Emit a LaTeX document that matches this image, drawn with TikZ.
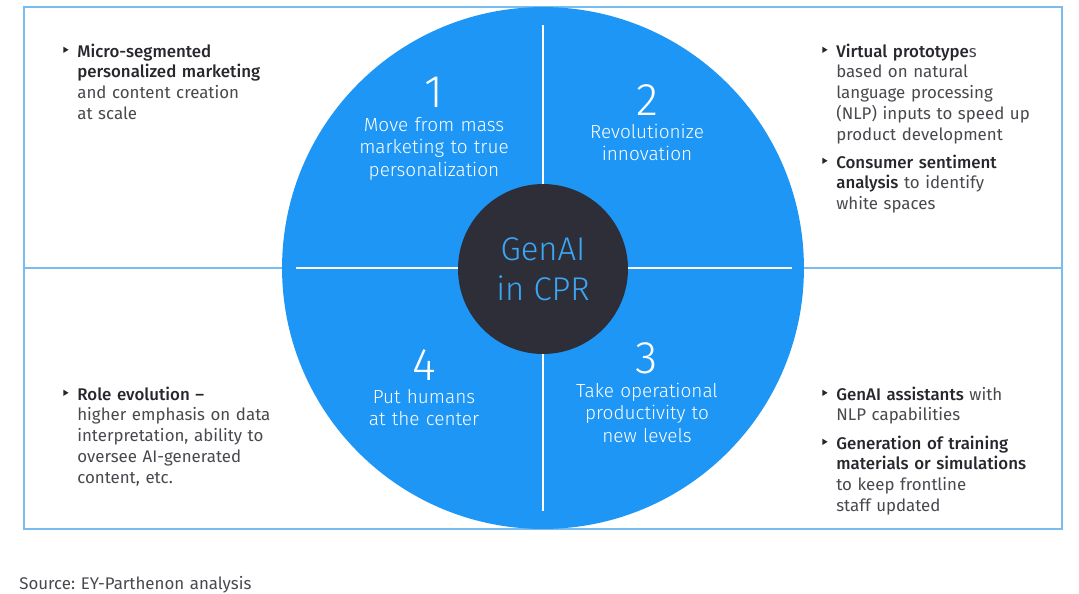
\documentclass[tikz,border=0pt]{standalone}
\usepackage{fontspec}
\setmainfont{Fira Sans}[BoldFont={Fira Sans Medium}]
\newfontfamily\lightfont{Fira Sans Light}
\frenchspacing
\definecolor{discblue}{RGB}{30,150,245}
\definecolor{frameblue}{RGB}{120,188,240}
\definecolor{hubgray}{RGB}{46,46,56}
\definecolor{genblue}{RGB}{58,166,245}
\definecolor{notegray}{RGB}{72,72,78}
\definecolor{notedark}{RGB}{38,38,44}
\newcommand\tri{\llap{\tikz[baseline=0pt]\fill[notedark] (0,2.3pt) -- (0,5.9pt) -- (3pt,4.1pt) -- cycle;\hspace{5pt}}}
\newcommand\kw[1]{\textbf{\color{notedark}#1}}

\begin{document}
\begin{tikzpicture}[x=0.02cm,y=-0.02cm,
	note/.style={anchor=base west,text width=4.6cm,align=left,inner sep=0pt,text=notegray,font=\fontsize{9.6}{11.9}\selectfont},
	quad/.style={anchor=base,text width=4.4cm,align=center,inner sep=0pt,text=white,font=\lightfont\fontsize{10.8}{13}\selectfont},
	bignum/.style={anchor=base,inner sep=0pt,text=white,font=\lightfont\fontsize{26}{26}\selectfont}]
				\useasboundingbox (0,0) rectangle (1079,593);
				\draw [frameblue,line width=0.7pt] (24,7) rectangle (1062,529);
				\draw [frameblue,line width=0.7pt] (24,268) -- (1062,268);
				\node [circle,fill=discblue,inner sep=0pt,minimum size=10.44cm] (disc) at (543,268) {};
				\draw [white,line width=0.6pt] (296,268) -- (792,268);
				\draw [white,line width=0.6pt] (543,25) -- (543,511);
				\node [circle,fill=hubgray,inner sep=0pt,minimum size=3.4cm,align=center,text=genblue,font=\lightfont\fontsize{18.7}{22.5}\selectfont] (hub) at (543,269) {GenAI\\in CPR};
				\node [bignum] (n1) at (434,107) {1};
				\node [quad] (q1) at (434,131) {Move from mass\\marketing to true\\personalization};
				\node [bignum] (n2) at (647,115) {2};
				\node [quad] (q2) at (647,138) {Revolutionize\\innovation};
				\node [bignum] (n3) at (647,373) {3};
				\node [quad] (q3) at (647,397) {Take operational\\productivity to\\new levels};
				\node [bignum] (n4) at (424,380) {4};
				\node [quad] (q4) at (424,403) {Put humans\\at the center};
				\node [note] (mkt) at (77,57) {\tri\kw{Micro-segmented}\\\kw{personalized marketing}\\and content creation\\at scale};
				\node [note] (proto) at (836,57) {\tri\kw{Virtual prototype}s\\based on natural\\language processing\\(NLP) inputs to speed up\\product development};
				\node [note] (senti) at (836,168) {\tri\kw{Consumer sentiment}\\\kw{analysis} to identify\\white spaces};
				\node [note] (role) at (77,400) {\tri\kw{Role evolution –}\\higher emphasis on data\\interpretation, ability to\\oversee AI-generated\\content, etc.};
				\node [note] (assist) at (836,400) {\tri\kw{GenAI assistants} with\\NLP capabilities};
				\node [note] (train) at (836,449) {\tri\kw{Generation of training}\\\kw{materials or simulations}\\to keep frontline\\staff updated};
				\node [note,text width=8cm] (source) at (19,589) {Source: EY-Parthenon analysis};
			\end{tikzpicture}
\end{document}
